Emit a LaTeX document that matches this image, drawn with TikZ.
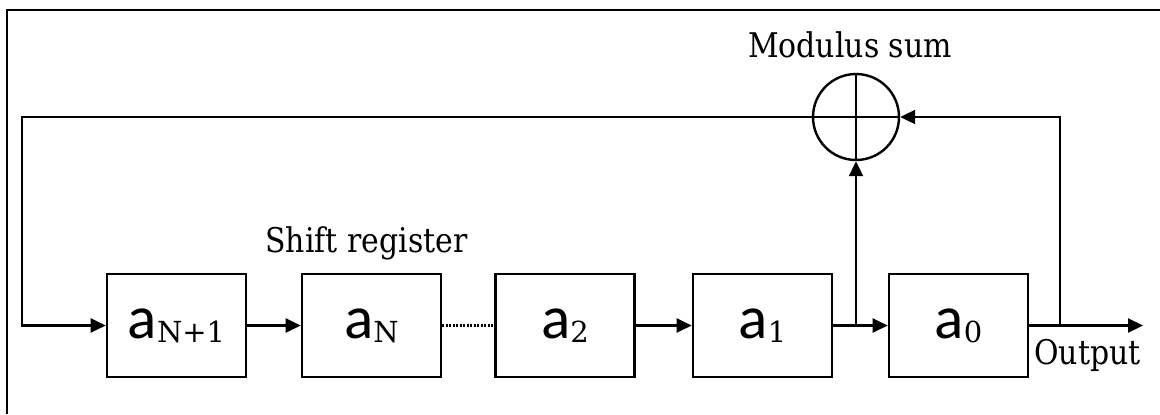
\documentclass[tikz,border=0pt]{standalone}
\usepackage{fontspec}
\setmainfont{DejaVu Serif}[FakeStretch=0.88]
\newfontfamily\subfont{DejaVu Serif}
\newfontfamily\afont{Carlito}
\usetikzlibrary{arrows.meta}
\newcommand\reglabel[1]{{\afont\fontsize{61bp}{61bp}\selectfont a}\raisebox{-4bp}{\subfont\fontsize{29bp}{30bp}\selectfont #1}}
\begin{document}
\begin{tikzpicture}[x=1bp,y=-1bp,
  reg/.style={draw,line width=2.6bp,minimum width=139bp,minimum height=103bp,inner sep=0pt},
  conn/.style={line width=2.2bp},
  arr/.style={conn,-{Triangle[length=15bp,width=14bp]}},
  lbl/.style={font=\fontsize{34bp}{40bp}\selectfont,inner sep=0pt,anchor=base}]
\useasboundingbox (0,0) rectangle (1160,414);
% frame
\draw[line width=2bp] (7,414) -- (7,10) -- (1160,10);
% registers
\node[reg] (b1) at (176.5,325.5) {\reglabel{N+1}};
\node[reg] (b2) at (371.5,325.5) {\reglabel{N}};
\node[reg] (b3) at (565,325.5) {\reglabel{2}};
\node[reg] (b4) at (762.5,325.5) {\reglabel{1}};
\node[reg] (b5) at (958.5,325.5) {\reglabel{0}};
% modulus sum
\node[draw,circle,line width=2.4bp,minimum size=86bp,inner sep=0pt] (sum) at (856,117) {};
\draw[conn] (sum.north) -- (sum.south);
\draw[conn] (sum.west) -- (sum.east);
% coordinates
\coordinate (tl) at (22,117);
\coordinate (j1) at (856,325.5);
\coordinate (j2) at (1060,325.5);
\coordinate (out) at (1143,325.5);
% connectors
\draw[arr] (sum.west) -- (tl) |- (b1.west);
\draw[arr] (b1) -- (b2);
\draw[conn,dash pattern=on 2bp off 1.5bp] (b2) -- (b3);
\draw[arr] (b3) -- (b4);
\draw[arr] (b4) -- (b5);
\draw[arr] (j1) -- (sum.south);
\draw[arr] (b5) -- (out);
\draw[arr] (j2) |- (sum.east);
% labels
\node[lbl] (ms) at (850,57) {Modulus sum};
\node[lbl] (sr) at (366.5,252) {Shift register};
\node[lbl,anchor=base west] (op) at (1034,364) {Output};
\end{tikzpicture}
\end{document}
